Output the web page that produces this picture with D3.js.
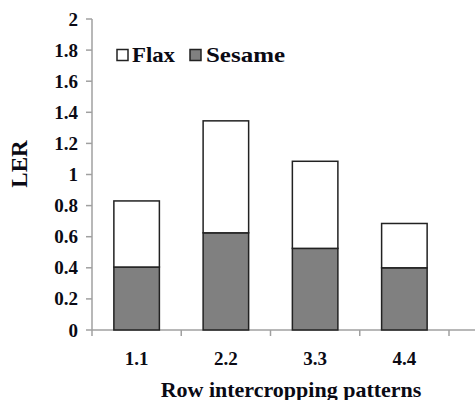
<!DOCTYPE html>
<html><head><meta charset="utf-8">
<script src="https://cdn.jsdelivr.net/npm/d3@7"></script>
<style>body{margin:0;background:#fff}svg{display:block}</style>
</head><body>
<script>
const categories = ["1.1","2.2","3.3","4.4"];
const sesame = [0.405, 0.625, 0.525, 0.40];
const flax = [0.425, 0.72, 0.56, 0.285];
const yTicks = [0,0.2,0.4,0.6,0.8,1,1.2,1.4,1.6,1.8,2];
const seriesNames = ["Flax","Sesame"];

const W=475,H=400;
const svg=d3.select("body").append("svg").attr("width",W).attr("height",H);
const x0=92, x1=449;
const y=d3.scaleLinear().domain([0,2]).range([330,19]);
const x=d3.scaleBand().domain(categories).range([x0,x1]).paddingInner(0.49).paddingOuter(0.245);
const font="'Liberation Serif','Times New Roman',serif";
const axisCol="#a0a0a0";
const txtCol="#0a0a14";

// axes
svg.append("line").attr("x1",x0).attr("x2",W).attr("y1",y(0)).attr("y2",y(0)).attr("stroke",axisCol).attr("stroke-width",1.5);
svg.append("line").attr("x1",x0).attr("x2",x0).attr("y1",y(0)).attr("y2",y(2)).attr("stroke",axisCol).attr("stroke-width",1.5);
yTicks.forEach(t=>{
  svg.append("line").attr("x1",x0-6).attr("x2",x0).attr("y1",y(t)).attr("y2",y(t)).attr("stroke",axisCol).attr("stroke-width",1.5);
  svg.append("text").attr("x",78).attr("y",y(t)+6.5).attr("text-anchor","end").attr("fill",txtCol)
    .attr("font-family",font).attr("font-weight","bold").attr("font-size",19).text(d3.format("")(t));
});
const xt=d3.range(categories.length+1).map(i=>x0+i*x.step());
xt.forEach(px=>{
  svg.append("line").attr("x1",px).attr("x2",px).attr("y1",y(0)).attr("y2",y(0)+6).attr("stroke",axisCol).attr("stroke-width",1.5);
});
categories.forEach(c=>{
  svg.append("text").attr("x",x(c)+x.bandwidth()/2).attr("y",365).attr("text-anchor","middle").attr("fill",txtCol)
    .attr("font-family",font).attr("font-weight","bold").attr("font-size",19).text(c);
});

// bars
categories.forEach((c,i)=>{
  svg.append("rect").attr("x",x(c)).attr("width",x.bandwidth())
    .attr("y",y(sesame[i])).attr("height",y(0)-y(sesame[i]))
    .attr("fill","#808080").attr("stroke","#222").attr("stroke-width",1.5);
  svg.append("rect").attr("x",x(c)).attr("width",x.bandwidth())
    .attr("y",y(sesame[i]+flax[i])).attr("height",y(sesame[i])-y(sesame[i]+flax[i]))
    .attr("fill","#fff").attr("stroke","#222").attr("stroke-width",1.5);
});

// labels
svg.append("text").attr("transform","translate(27,164) rotate(-90)").attr("text-anchor","middle").attr("fill",txtCol)
  .attr("font-family",font).attr("font-weight","bold").attr("font-size",23).text("LER");
svg.append("text").attr("x",291).attr("y",397).attr("text-anchor","middle").attr("fill",txtCol)
  .attr("font-family",font).attr("font-weight","bold").attr("font-size",22).text("Row intercropping patterns");

// legend
const leg=[{n:seriesNames[0],f:"#fff",x:117,tx:132,w:43},{n:seriesNames[1],f:"#808080",x:190,tx:206,w:79}];
leg.forEach(l=>{
  svg.append("rect").attr("x",l.x).attr("y",49.5).attr("width",11).attr("height",11)
    .attr("fill",l.f).attr("stroke","#222").attr("stroke-width",1.5);
  svg.append("text").attr("x",l.tx).attr("y",61.5).attr("font-family",font).attr("font-weight","bold").attr("fill",txtCol)
    .attr("font-size",21).attr("textLength",l.w).attr("lengthAdjust","spacingAndGlyphs").text(l.n);
});
</script>
</body></html>
